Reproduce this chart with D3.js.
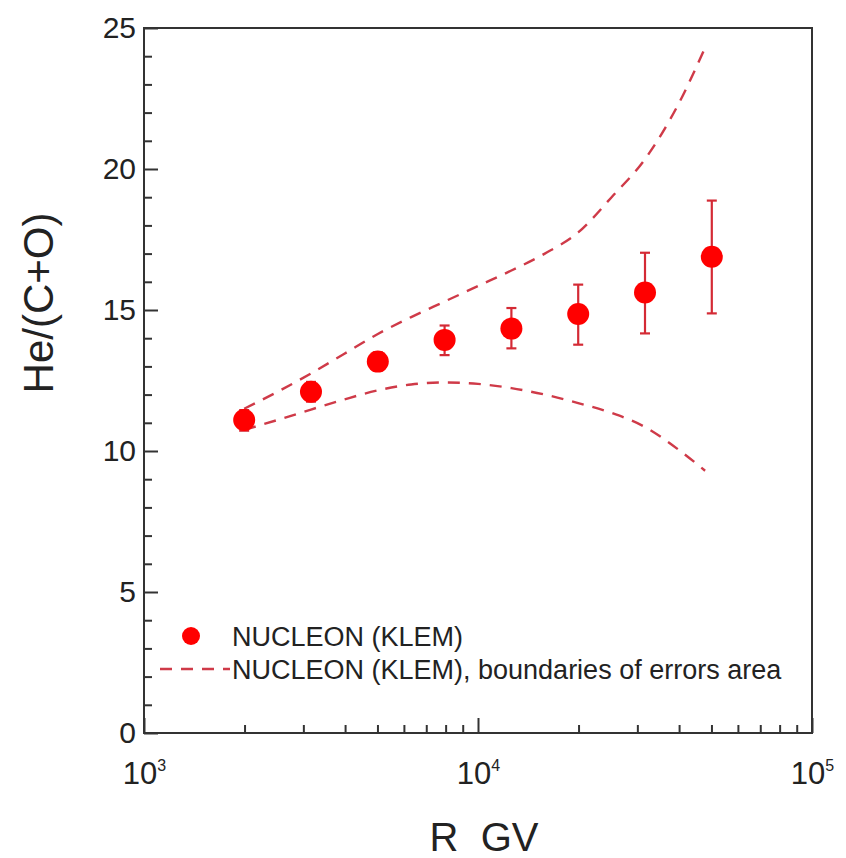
<!DOCTYPE html>
<html>
<head>
<meta charset="utf-8">
<script src="https://cdn.jsdelivr.net/npm/d3@7"></script>
<style>
  html, body { margin: 0; padding: 0; background: #fff; }
  svg { display: block; font-family: "Liberation Sans", Arial, sans-serif; }
</style>
</head>
<body>
<svg id="chart" width="846" height="858"></svg>
<script>
// ---- data ----
const rigidity = [1995, 3162, 5012, 7943, 12589, 19953, 31623, 50119];
const ratio    = [11.10, 12.10, 13.17, 13.94, 14.34, 14.86, 15.62, 16.89];
const errHigh  = [11.45, 12.45, 13.50, 14.45, 15.07, 15.90, 17.03, 18.88];
const errLow   = [10.72, 11.75, 12.85, 13.40, 13.64, 13.77, 14.17, 14.88];

const boundX     = [1995, 2512, 3162, 3981, 5012, 6310, 7943, 10000, 12589, 15849, 19953, 25119, 31623, 39811, 47863];
const boundUpper = [11.5, 12.1, 12.75, 13.45, 14.15, 14.75, 15.3, 15.85, 16.4, 17.0, 17.75, 19.0, 20.35, 22.3, 24.3];
const boundLower = [10.75, 11.1, 11.47, 11.83, 12.15, 12.36, 12.43, 12.38, 12.23, 12.0, 11.7, 11.35, 10.85, 10.05, 9.3];

const xMajorTicks = [1e3, 1e4, 1e5];
const xTickExp = ["3", "4", "5"];
const xMinorTicks = [2e3,3e3,4e3,5e3,6e3,7e3,8e3,9e3,2e4,3e4,4e4,5e4,6e4,7e4,8e4,9e4];
const yMajorTicks = [0, 5, 10, 15, 20, 25];
const yMinorTicks = [1,2,3,4,6,7,8,9,11,12,13,14,16,17,18,19,21,22,23,24];

const legendLabels = ["NUCLEON (KLEM)", "NUCLEON (KLEM), boundaries of errors area"];

// ---- layout ----
const L = 144, R = 812, T = 28, B = 733;
const svg = d3.select("#chart");
const x = d3.scaleLog().domain([1e3, 1e5]).range([L, R]);
const y = d3.scaleLinear().domain([0, 25]).range([B, T]);

const axisColor = "#333";
const dashColor = "#cf3a48";
const pointColor = "#ff0000";
const errColor = "#d42a35";

// frame
svg.append("rect").attr("x", L).attr("y", T).attr("width", R - L).attr("height", B - T)
  .attr("fill", "none").attr("stroke", axisColor).attr("stroke-width", 2);

// y axis
const yMaj = svg.append("g").attr("transform", `translate(${L},0)`)
  .call(d3.axisLeft(y).tickValues(yMajorTicks).tickSize(-14).tickPadding(8).tickFormat(d3.format("d")));
yMaj.select(".domain").remove();
yMaj.selectAll("line").attr("stroke", axisColor).attr("stroke-width", 2);
yMaj.selectAll("text").attr("font-size", 30).attr("fill", "#222")
  .attr("font-family", "Liberation Sans, Arial, sans-serif");
const yMin = svg.append("g").attr("transform", `translate(${L},0)`)
  .call(d3.axisLeft(y).tickValues(yMinorTicks).tickSize(-8).tickFormat(""));
yMin.select(".domain").remove();
yMin.selectAll("line").attr("stroke", axisColor).attr("stroke-width", 2);

// x axis
const xMaj = svg.append("g").attr("transform", `translate(0,${B})`)
  .call(d3.axisBottom(x).tickValues(xMajorTicks).tickSize(-15).tickPadding(14).tickFormat(""));
xMaj.select(".domain").remove();
xMaj.selectAll("line").attr("stroke", axisColor).attr("stroke-width", 2);
xMaj.selectAll(".tick").each(function(d, i) {
  const t = d3.select(this).select("text")
    .attr("font-size", 31).attr("fill", "#222").attr("dy", "1.2em")
    .attr("font-family", "Liberation Sans, Arial, sans-serif");
  t.text(null);
  t.append("tspan").text("10");
  t.append("tspan").attr("font-size", 16).attr("dy", "-13").text(xTickExp[i]);
});
const xMin = svg.append("g").attr("transform", `translate(0,${B})`)
  .call(d3.axisBottom(x).tickValues(xMinorTicks).tickSize(-8).tickFormat(""));
xMin.select(".domain").remove();
xMin.selectAll("line").attr("stroke", axisColor).attr("stroke-width", 2);

// axis titles
svg.append("text").attr("x", 484).attr("y", 851).attr("text-anchor", "middle")
  .attr("font-size", 40).attr("fill", "#222").text("R\u00a0\u00a0GV");
svg.append("text").attr("transform", "translate(53,303) rotate(-90)")
  .attr("text-anchor", "middle").attr("font-size", 42).attr("fill", "#222").text("He/(C+O)");

// boundaries
const line = d3.line().x(d => x(d[0])).y(d => y(d[1])).curve(d3.curveMonotoneX);
[boundUpper, boundLower].forEach(arr => {
  svg.append("path").datum(boundX.map((v, i) => [v, arr[i]]))
    .attr("d", line).attr("fill", "none").attr("stroke", dashColor)
    .attr("stroke-width", 2.4).attr("stroke-dasharray", "12,9");
});

// error bars
const eg = svg.append("g");
rigidity.forEach((r, i) => {
  const cx = x(r);
  eg.append("line").attr("x1", cx).attr("x2", cx).attr("y1", y(errLow[i])).attr("y2", y(errHigh[i]))
    .attr("stroke", errColor).attr("stroke-width", 2.2);
  [errLow[i], errHigh[i]].forEach(v => {
    eg.append("line").attr("x1", cx - 5).attr("x2", cx + 5).attr("y1", y(v)).attr("y2", y(v))
      .attr("stroke", errColor).attr("stroke-width", 2.2);
  });
});

// points
svg.append("g").selectAll("circle").data(rigidity).join("circle")
  .attr("cx", d => x(d)).attr("cy", (d, i) => y(ratio[i])).attr("r", 11)
  .attr("fill", pointColor);

// legend
const lg = svg.append("g");
lg.append("circle").attr("cx", 191).attr("cy", 636).attr("r", 9).attr("fill", pointColor);
lg.append("text").attr("x", 232).attr("y", 646).attr("font-size", 27).attr("fill", "#222").text(legendLabels[0]);
lg.append("line").attr("x1", 160).attr("x2", 230).attr("y1", 669).attr("y2", 669)
  .attr("stroke", dashColor).attr("stroke-width", 2.4).attr("stroke-dasharray", "12,9");
lg.append("text").attr("x", 232).attr("y", 679).attr("font-size", 27).attr("fill", "#222").text(legendLabels[1]);
</script>
</body>
</html>
